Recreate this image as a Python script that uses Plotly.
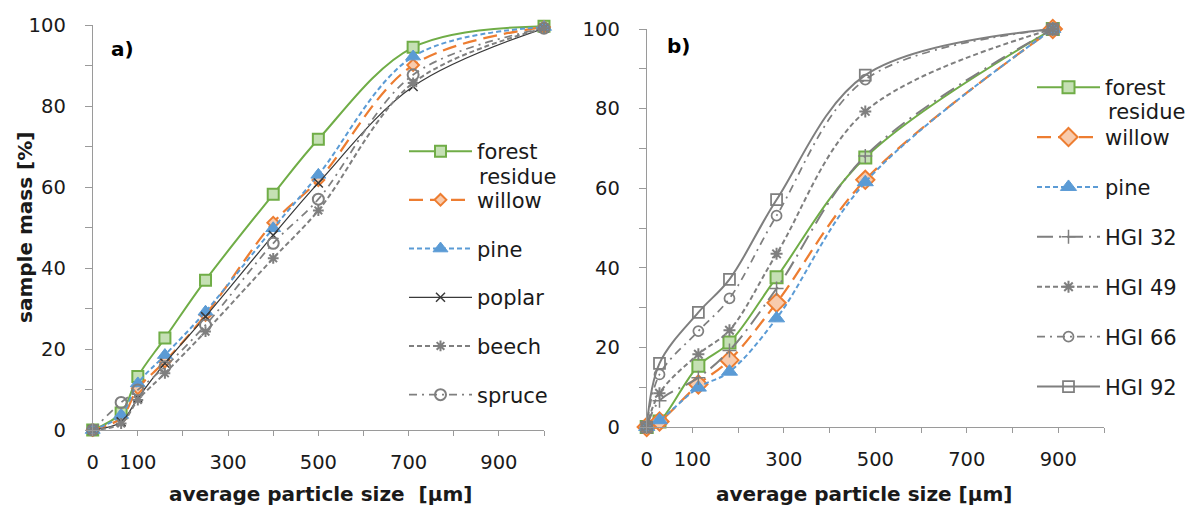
import plotly.graph_objects as go

# ---- data: cumulative sample mass [%] vs average particle size [um] ----
size_a = [0, 63, 100, 160, 250, 400, 500, 710, 1000]
forest_a = [0, 4.2, 13.2, 22.7, 37.0, 58.2, 71.8, 94.5, 99.7]
willow_a = [0, 3.0, 10.3, 16.9, 28.4, 51.2, 61.7, 90.1, 99.5]
pine_a = [0, 3.7, 11.5, 18.5, 29.2, 49.8, 63.0, 92.2, 99.5]
poplar_a = [0, 2.0, 7.9, 16.5, 28.0, 48.1, 61.0, 84.8, 99.2]
beech_a = [0, 1.6, 7.4, 14.0, 24.3, 42.4, 54.2, 85.7, 99.2]
spruce_a = [0, 6.8, 9.9, 15.6, 25.9, 46.1, 57.0, 87.7, 99.2]

size_b = [0, 28, 113, 181, 284, 478, 888]
forest_b = [0, 1.4, 15.4, 21.2, 37.6, 67.7, 100]
willow_b = [0, 1.4, 10.7, 16.8, 31.2, 62.1, 100]
pine_b = [0, 1.7, 9.9, 13.9, 27.3, 61.5, 100]
hgi32_b = [0, 6.6, 12.4, 19.2, 34.8, 68.1, 100]
hgi49_b = [0, 8.5, 18.3, 24.3, 43.5, 79.3, 100]
hgi66_b = [0, 13.2, 24.1, 32.3, 53.1, 87.3, 100]
hgi92_b = [0, 16.0, 28.8, 37.1, 57.1, 88.4, 100]

x_ticks = [0, 100, 200, 300, 400, 500, 600, 700, 800, 900, 1000]
x_ticktext = ["0", "100", "", "300", "", "500", "", "700", "", "900", ""]
y_ticks = [0, 10, 20, 30, 40, 50, 60, 70, 80, 90, 100]
y_ticktext = ["0", "", "20", "", "40", "", "60", "", "80", "", "100"]

GREEN, GREEN_FILL = "#70AD47", "#C5E0B4"
ORANGE, ORANGE_FILL = "#ED7D31", "#F8CBAD"
BLUE = "#5B9BD5"
GRAY = "#7F7F7F"
DARK = "#3A3A3A"
FONT = "DejaVu Sans, Verdana, sans-serif"
TXT = "#1a1a1a"
AX = "#9A9A9A"

W, H = 1187, 507


def px_x(p):
    return p / W


def px_y(p):
    return 1 - p / H


fig = go.Figure()


def add(x, y, name, color, dash, width, symbol, msize, mfill, mline, mlw,
        xa, ya, legend, group):
    fig.add_trace(go.Scatter(
        x=x, y=y, name=name, mode="lines+markers",
        line=dict(color=color, width=width, dash=dash, shape="spline", smoothing=1),
        marker=dict(symbol=symbol, size=msize, color=mfill,
                    line=dict(color=mline, width=mlw)),
        xaxis=xa, yaxis=ya, legend=legend, legendgroup=group,
        cliponaxis=False,
    ))


# panel a)
add(size_a, forest_a, "forest", GREEN, "solid", 2, "square", 11, GREEN_FILL, GREEN, 2,
    "x", "y", "legend", "a1")
add(size_a, willow_a, "willow", ORANGE, "14px,7px", 2.25, "diamond", 9, ORANGE_FILL, ORANGE, 2,
    "x", "y", "legend", "a2")
add(size_a, pine_a, "pine", BLUE, "5px,3px", 2, "triangle-up", 13, BLUE, BLUE, 1,
    "x", "y", "legend", "a3")
add(size_a, poplar_a, "poplar", DARK, "solid", 1.25, "x-thin-open", 9, DARK, DARK, 1.5,
    "x", "y", "legend", "a4")
add(size_a, beech_a, "beech", GRAY, "5px,3px", 2, "asterisk-open", 9, GRAY, GRAY, 2,
    "x", "y", "legend", "a5")
add(size_a, spruce_a, "spruce", GRAY, "8px,5px,2px,5px", 1.75, "circle-open", 11, GRAY, GRAY, 2,
    "x", "y", "legend", "a6")

# panel b)
add(size_b, forest_b, "forest", GREEN, "solid", 2, "square", 12, GREEN_FILL, GREEN, 2,
    "x2", "y2", "legend2", "b1")
add(size_b, willow_b, "willow", ORANGE, "14px,7px", 2.25, "diamond", 14, ORANGE_FILL, ORANGE, 2,
    "x2", "y2", "legend2", "b2")
add(size_b, pine_b, "pine", BLUE, "5px,3px", 2, "triangle-up", 14, BLUE, BLUE, 1,
    "x2", "y2", "legend2", "b3")
add(size_b, hgi32_b, "HGI 32", GRAY, "16px,6px,2px,6px", 2, "cross-thin-open", 10, GRAY, GRAY, 1.5,
    "x2", "y2", "legend2", "b4")
add(size_b, hgi49_b, "HGI 49", GRAY, "5px,3px", 2, "asterisk-open", 10, GRAY, GRAY, 2,
    "x2", "y2", "legend2", "b5")
add(size_b, hgi66_b, "HGI 66", GRAY, "8px,5px,2px,5px", 1.75, "circle-open", 10, GRAY, GRAY, 1.75,
    "x2", "y2", "legend2", "b6")
add(size_b, hgi92_b, "HGI 92", GRAY, "solid", 2, "square-open", 11, GRAY, GRAY, 1.75,
    "x2", "y2", "legend2", "b7")

xcommon = dict(range=[0, 1000], tickvals=x_ticks, ticktext=x_ticktext, ticks="outside",
               ticklen=5, tickcolor=AX, showline=True, linecolor=AX, linewidth=1,
               showgrid=False, zeroline=False, ticklabelstandoff=10, automargin=False,
               tickfont=dict(family=FONT, size=19.5, color=TXT))
ycommon = dict(range=[0, 100], tickvals=y_ticks, ticktext=y_ticktext, ticks="outside",
               ticklen=7, tickcolor=AX, showline=True, linecolor=AX, linewidth=1,
               showgrid=False, zeroline=False, ticklabelstandoff=15, automargin=False,
               tickfont=dict(family=FONT, size=19.5, color=TXT))

legcommon = dict(font=dict(family=FONT, size=21, color=TXT), bgcolor="rgba(0,0,0,0)",
                 itemwidth=63, xanchor="left", yanchor="top",
                 valign="middle", itemclick=False, itemdoubleclick=False)

fig.update_layout(
    width=W, height=H, margin=dict(l=0, r=0, t=0, b=0, autoexpand=False),
    paper_bgcolor="white", plot_bgcolor="white", showlegend=True,
    xaxis=dict(domain=[px_x(92.7), px_x(544)], anchor="y", **xcommon),
    yaxis=dict(domain=[px_y(430), px_y(25)], anchor="x", **ycommon),
    xaxis2=dict(domain=[px_x(646.7), px_x(1104)], anchor="y2", **xcommon),
    yaxis2=dict(domain=[px_y(427), px_y(29)], anchor="x2", **ycommon),
    legend=dict(x=px_x(404), y=px_y(131), tracegroupgap=18.4, **legcommon),
    legend2=dict(x=px_x(1032), y=px_y(67), tracegroupgap=19.6, **legcommon),
)

ann = []
bold = dict(family=FONT, size=20, color=TXT)
ann.append(dict(text="<b>a)</b>", x=px_x(109), y=px_y(49), xref="paper", yref="paper",
                xanchor="left", yanchor="middle", showarrow=False,
                font=dict(family=FONT, size=20, color="black")))
ann.append(dict(text="<b>b)</b>", x=px_x(665), y=px_y(46), xref="paper", yref="paper",
                xanchor="left", yanchor="middle", showarrow=False,
                font=dict(family=FONT, size=20, color="black")))
ann.append(dict(text="<b>sample mass [%]</b>", x=px_x(25), y=px_y(228), xref="paper", yref="paper",
                textangle=-90, xanchor="center", yanchor="middle", showarrow=False, font=bold))
ann.append(dict(text="<b>average particle size  [µm]</b>", x=px_x(320), y=px_y(494), xref="paper",
                yref="paper", xanchor="center", yanchor="middle", showarrow=False, font=bold))
ann.append(dict(text="<b>average particle size [µm]</b>", x=px_x(864), y=px_y(494), xref="paper",
                yref="paper", xanchor="center", yanchor="middle", showarrow=False, font=bold))
# second line of the wrapped "forest residue" legend labels
ann.append(dict(text="residue", x=px_x(477), y=px_y(177), xref="paper", yref="paper",
                xanchor="left", yanchor="middle", showarrow=False,
                font=dict(family=FONT, size=21, color=TXT)))
ann.append(dict(text="residue", x=px_x(1106), y=px_y(112), xref="paper", yref="paper",
                xanchor="left", yanchor="middle", showarrow=False,
                font=dict(family=FONT, size=21, color=TXT)))
fig.update_layout(annotations=ann)

fig.write_html("out.html")
